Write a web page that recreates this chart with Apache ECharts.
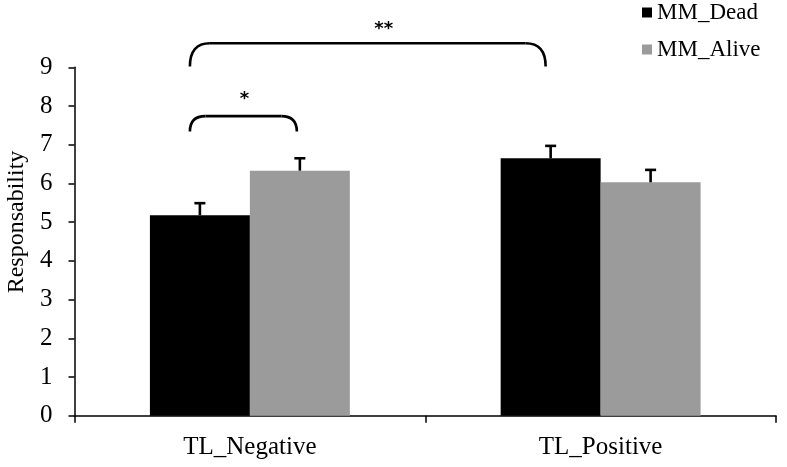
<!DOCTYPE html>
<html><head><meta charset="utf-8">
<script src="https://cdn.jsdelivr.net/npm/echarts@6/dist/echarts.min.js"></script>
<style>html,body{margin:0;padding:0;background:#fff}#c{width:787px;height:467px}</style>
</head><body><div id="c"></div>
<script>
// ---- data ----
const categories = ['TL_Negative', 'TL_Positive'];
const seriesNames = ['MM_Dead', 'MM_Alive'];
const deadValues = [5.18, 6.65];
const aliveValues = [6.33, 6.03];
const deadErrors = [0.31, 0.32];
const aliveErrors = [0.32, 0.32];
const yMin = 0, yMax = 9, yStep = 1;
const axisTitle = 'Responsability';
// significance brackets: [startCategory, startSeries, endCategory, endSeries, lowValue, highValue]
const bracketSpans = [[0, 0, 1, 0, 9.02, 9.62], [0, 0, 0, 1, 7.34, 7.74]];
const bracketLabels = ['**', '*'];

const FONT = '"Liberation Serif", "Times New Roman", serif';
const GREY = '#9b9b9b';
const BAR_FRAC = 0.285;

function barCenter(api, cat, sIdx) {
  const c = api.coord([cat, 0])[0];
  const bw = api.size([1, 0])[0] * BAR_FRAC;
  return c + (sIdx === 0 ? -bw / 2 : bw / 2);
}

function errorSeries(values, errors, sIdx) {
  return {
    type: 'custom', silent: true, z: 5,
    data: values.map((v, i) => [i, v, v + errors[i]]),
    encode: { x: 0, y: [1, 2] },
    renderItem: function (params, api) {
      const cat = api.value(0);
      const x = barCenter(api, cat, sIdx);
      const y0 = api.coord([cat, api.value(1)])[1];
      const y1 = api.coord([cat, api.value(2)])[1];
      const st = { stroke: '#000', lineWidth: 2.6 };
      return { type: 'group', children: [
        { type: 'line', shape: { x1: x, y1: y0, x2: x, y2: y1 }, style: st },
        { type: 'line', shape: { x1: x - 5.5, y1: y1, x2: x + 5.5, y2: y1 }, style: st }
      ]};
    }
  };
}

const chart = echarts.init(document.getElementById('c'));
chart.setOption({
  animation: false,
  backgroundColor: '#fff',
  grid: { left: 74.5, right: 11, top: 67.3, bottom: 51.3, containLabel: false },
  legend: {
    data: seriesNames.map(n => ({ name: n, icon: 'rect' })),
    orient: 'vertical', left: 641, top: 0, padding: 1,
    itemWidth: 10, itemHeight: 10, itemGap: 14,
    textStyle: { fontFamily: FONT, fontSize: 23, color: '#000' }
  },
  xAxis: {
    type: 'category', data: categories,
    axisLine: { lineStyle: { color: '#000', width: 1.5 } },
    axisTick: { show: true, length: 7, lineStyle: { color: '#000', width: 1.5 } },
    axisLabel: { color: '#000', fontFamily: FONT, fontSize: 25, margin: 19 }
  },
  yAxis: {
    type: 'value', min: yMin, max: yMax, interval: yStep,
    splitLine: { show: false },
    axisLine: { show: true, lineStyle: { color: '#000', width: 1.5 } },
    axisTick: { show: true, length: 6, lineStyle: { color: '#000', width: 1.5 } },
    axisLabel: { color: '#000', fontFamily: FONT, fontSize: 25, margin: 22 }
  },
  graphic: [{
    type: 'text',
    x: 17, y: 222, rotation: Math.PI / 2,
    style: { text: axisTitle, font: '24px ' + FONT, fill: '#000', textAlign: 'center', textVerticalAlign: 'middle', align: 'center', verticalAlign: 'middle' }
  }],
  series: [
    { name: seriesNames[0], type: 'bar', data: deadValues, barWidth: (BAR_FRAC * 100) + '%', barGap: '0%', itemStyle: { color: '#000' } },
    { name: seriesNames[1], type: 'bar', data: aliveValues, barWidth: (BAR_FRAC * 100) + '%', barGap: '0%', itemStyle: { color: GREY } },
    errorSeries(deadValues, deadErrors, 0),
    errorSeries(aliveValues, aliveErrors, 1),
    {
      type: 'custom', silent: true, z: 6,
      data: bracketSpans,
      encode: { x: [0, 2], y: [4, 5] },
      renderItem: function (params, api) {
        const i = params.dataIndex;
        const xl = barCenter(api, api.value(0), api.value(1)) - 10;
        const xr = barCenter(api, api.value(2), api.value(3)) - (i === 0 ? 5 : 3);
        const yb = api.coord([0, api.value(4)])[1];
        const yt = api.coord([0, api.value(5)])[1];
        const r = Math.min(20, (yb - yt));
        const st = { stroke: '#000', lineWidth: 2.6, fill: null };
        return { type: 'group', children: [
          { type: 'bezierCurve', shape: { x1: xl, y1: yb, cpx1: xl, cpy1: yt, x2: xl + r, y2: yt }, style: st },
          { type: 'line', shape: { x1: xl + r, y1: yt, x2: xr - r, y2: yt }, style: st },
          { type: 'bezierCurve', shape: { x1: xr - r, y1: yt, cpx1: xr, cpy1: yt, x2: xr, y2: yb }, style: st },
          { type: 'text', style: { text: bracketLabels[i], x: (xl + xr) / 2 + (i === 0 ? 16 : 1), y: yt - (i === 0 ? 14 : 17), font: 'bold 18px "DejaVu Sans"', fill: '#000', textAlign: 'center', textVerticalAlign: 'middle', align: 'center', verticalAlign: 'middle' } }
        ]};
      }
    }
  ]
});
</script></body></html>
